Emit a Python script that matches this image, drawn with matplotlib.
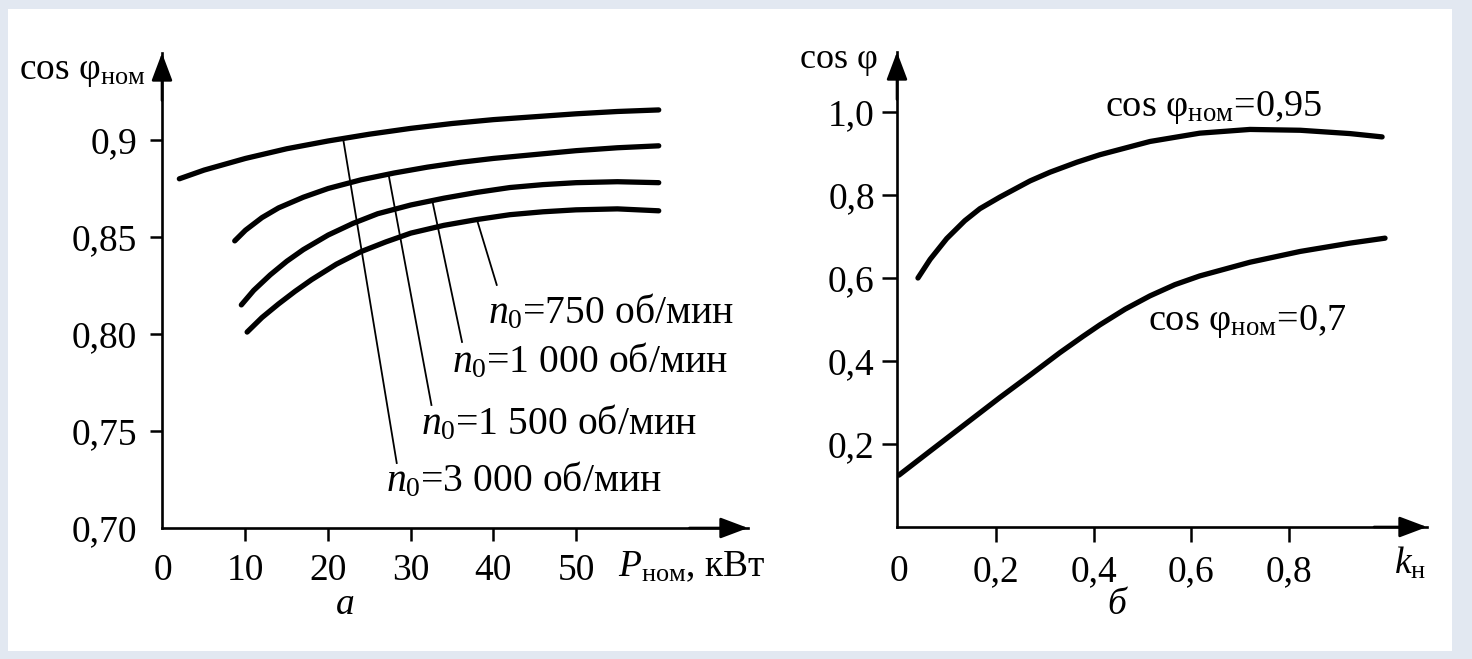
import matplotlib
matplotlib.use('Agg')
import matplotlib.pyplot as plt
from matplotlib.patches import Rectangle

plt.rcParams['font.family'] = ['Liberation Serif', 'DejaVu Serif']
plt.rcParams['mathtext.fontset'] = 'custom'
plt.rcParams['mathtext.rm'] = 'Liberation Serif'
plt.rcParams['mathtext.it'] = 'Liberation Serif:italic'
plt.rcParams['mathtext.bf'] = 'Liberation Serif:bold'

# ---------------- data: panel a ----------------
p_3000 = [2, 5, 10, 15, 20, 25, 30, 35, 40, 45, 50, 55, 60]
c_3000 = [0.880, 0.8845, 0.8905, 0.8955, 0.8995, 0.903, 0.906, 0.9085, 0.9105, 0.912, 0.9135, 0.9147, 0.9155]

p_1500 = [8.7, 10, 12, 14, 17, 20, 24, 28, 32, 36, 40, 45, 50, 55, 60]
c_1500 = [0.848, 0.8535, 0.860, 0.865, 0.8705, 0.875, 0.8795, 0.883, 0.886, 0.8885, 0.8905, 0.8925, 0.8945, 0.896, 0.897]

p_1000 = [9.5, 11, 13, 15, 17, 20, 23, 26, 30, 34, 38, 42, 46, 50, 55, 60]
c_1000 = [0.815, 0.8225, 0.8305, 0.8375, 0.8435, 0.851, 0.857, 0.862, 0.8665, 0.870, 0.873, 0.8755, 0.877, 0.878, 0.8785, 0.878]

p_750 = [10.2, 12, 14, 16, 18, 21, 24, 27, 30, 34, 38, 42, 46, 50, 55, 60]
c_750 = [0.801, 0.8085, 0.8155, 0.822, 0.828, 0.836, 0.8425, 0.8475, 0.852, 0.856, 0.859, 0.8615, 0.863, 0.864, 0.8645, 0.8635]

a_xticks = [0, 10, 20, 30, 40, 50]
a_xticklabels = ['0', '10', '20', '30', '40', '50']
a_yticks = [0.70, 0.75, 0.80, 0.85, 0.90]
a_yticklabels = ['0,70', '0,75', '0,80', '0,85', '0,9']

# leader lines: from a point on the curve down to the label
lead_p0 = [21.8, 27.3, 32.6, 38.0]
lead_c0 = [0.901, 0.8825, 0.8688, 0.859]
lead_p1 = [28.3, 32.5, 36.2, 40.4]
lead_c1 = [0.7335, 0.7634, 0.7959, 0.8253]
lead_texts = [r'$n_0$=3 000 об/мин', r'$n_0$=1 500 об/мин', r'$n_0$=1 000 об/мин', r'$n_0$=750 об/мин']
text_p = [27.0, 31.2, 35.0, 39.4]
text_c = [0.7247, 0.7541, 0.7856, 0.8113]

# ---------------- data: panel b ----------------
k_095 = [0.039, 0.064, 0.098, 0.135, 0.166, 0.207, 0.269, 0.31, 0.365, 0.412, 0.515, 0.617, 0.72, 0.823, 0.925, 0.991]
c_095 = [0.600, 0.645, 0.695, 0.738, 0.767, 0.795, 0.834, 0.855, 0.879, 0.897, 0.929, 0.949, 0.958, 0.956, 0.948, 0.940]

k_07 = [0.0, 0.064, 0.125, 0.207, 0.269, 0.330, 0.377, 0.412, 0.464, 0.515, 0.566, 0.617, 0.72, 0.823, 0.925, 0.997]
c_07 = [0.125, 0.183, 0.238, 0.312, 0.366, 0.420, 0.459, 0.487, 0.525, 0.557, 0.584, 0.605, 0.638, 0.664, 0.684, 0.696]

b_xticks = [0, 0.2, 0.4, 0.6, 0.8]
b_xticklabels = ['0', '0,2', '0,4', '0,6', '0,8']
b_yticks = [0.2, 0.4, 0.6, 0.8, 1.0]
b_yticklabels = ['0,2', '0,4', '0,6', '0,8', '1,0']

W, H = 1472, 659
fig = plt.figure(figsize=(W / 100, H / 100), dpi=100)
fig.patch.set_facecolor('#e2e8f1')
fig.add_artist(Rectangle((8 / W, 8 / H), (1452 - 8) / W, (650 - 8) / H,
                         transform=fig.transFigure, facecolor='white',
                         edgecolor='none', zorder=0))

LW_CURVE = 3.8
LW_AX = 1.9
FS = 27
FS_ANN = 28.5


def style_axes(ax):
    for s in ['top', 'right']:
        ax.spines[s].set_visible(False)
    for s in ['left', 'bottom']:
        ax.spines[s].set_linewidth(LW_AX)
        ax.spines[s].set_color('black')
    ax.set_facecolor('none')
    for xy, xyt in [((0, 1), (0, 0.9)), ((1, 0), (0.9, 0))]:
        ax.annotate('', xy=xy, xytext=xyt, xycoords='axes fraction',
                    textcoords='axes fraction',
                    arrowprops=dict(arrowstyle='-|>,head_length=0.85,head_width=0.32',
                                    mutation_scale=20, color='black', lw=LW_AX,
                                    shrinkA=0, shrinkB=0))


curve_kw = dict(color='black', lw=LW_CURVE, solid_capstyle='round', solid_joinstyle='round')

# ---------------- panel a ----------------
axa = fig.add_axes([162 / W, (H - 528) / H, (748 - 162) / W, (528 - 53) / H])
style_axes(axa)
axa.set_xlim(-0.1, 70.8)
axa.set_ylim(0.70, 0.7 + (528 - 53) / 97 * 0.05)
for p, c in [(p_3000, c_3000), (p_1500, c_1500), (p_1000, c_1000), (p_750, c_750)]:
    axa.plot(p, c, **curve_kw)
for i in range(len(lead_texts)):
    axa.plot([lead_p0[i], lead_p1[i]], [lead_c0[i], lead_c1[i]], color='black', lw=1.3)
    axa.text(text_p[i], text_c[i], lead_texts[i], fontsize=FS_ANN, ha='left', va='center')
axa.set_xticks(a_xticks)
axa.set_xticklabels(a_xticklabels)
axa.set_yticks(a_yticks)
axa.set_yticklabels(a_yticklabels)
axa.tick_params(axis='both', direction='out', length=9, width=1.8, labelsize=FS, colors='black')
axa.tick_params(axis='x', pad=9)
axa.tick_params(axis='y', pad=9)
axa.xaxis.get_major_ticks()[0].tick1line.set_visible(False)
axa.yaxis.get_major_ticks()[0].tick1line.set_visible(False)
fig.text(146 / W, 1 - 72 / H, r'cos φ$_{\rm ном}$', fontsize=27, ha='right', va='center')
fig.text(618 / W, 1 - 567 / H, r'$P_{\rm ном}$, кВт', fontsize=FS, ha='left', va='center')
fig.text(345 / W, 1 - 605 / H, 'а', fontsize=FS, ha='center', va='center', style='italic')

# ---------------- panel b ----------------
axb = fig.add_axes([897 / W, (H - 527) / H, (1427 - 897) / W, (527 - 52) / H])
style_axes(axb)
axb.set_xlim(-0.004, (1427 - 899) / 487.5)
axb.set_ylim(0, (527 - 52) / 415)
axb.plot(k_095, c_095, **curve_kw)
axb.plot(k_07, c_07, **curve_kw)
axb.set_xticks(b_xticks)
axb.set_xticklabels(b_xticklabels)
axb.set_yticks(b_yticks)
axb.set_yticklabels(b_yticklabels)
axb.tick_params(axis='both', direction='out', length=11, width=1.8, labelsize=FS, colors='black')
axb.tick_params(axis='x', pad=9)
axb.tick_params(axis='y', pad=5)
axb.xaxis.get_major_ticks()[0].tick1line.set_visible(False)
axb.text(0.4226, 1.012, r'cos φ$_{\rm ном}$=0,95', fontsize=27.5, ha='left', va='center')
axb.text(0.511, 0.494, r'cos φ$_{\rm ном}$=0,7', fontsize=27.5, ha='left', va='center')
fig.text(878 / W, 1 - 60 / H, 'cos φ', fontsize=26, ha='right', va='center')
fig.text(1410 / W, 1 - 563 / H, r'$k_{\rm н}$', fontsize=FS, ha='center', va='center')
fig.text(1117 / W, 1 - 605 / H, 'б', fontsize=FS, ha='center', va='center', style='italic')

fig.savefig('out.png', dpi=100, facecolor=fig.get_facecolor())
